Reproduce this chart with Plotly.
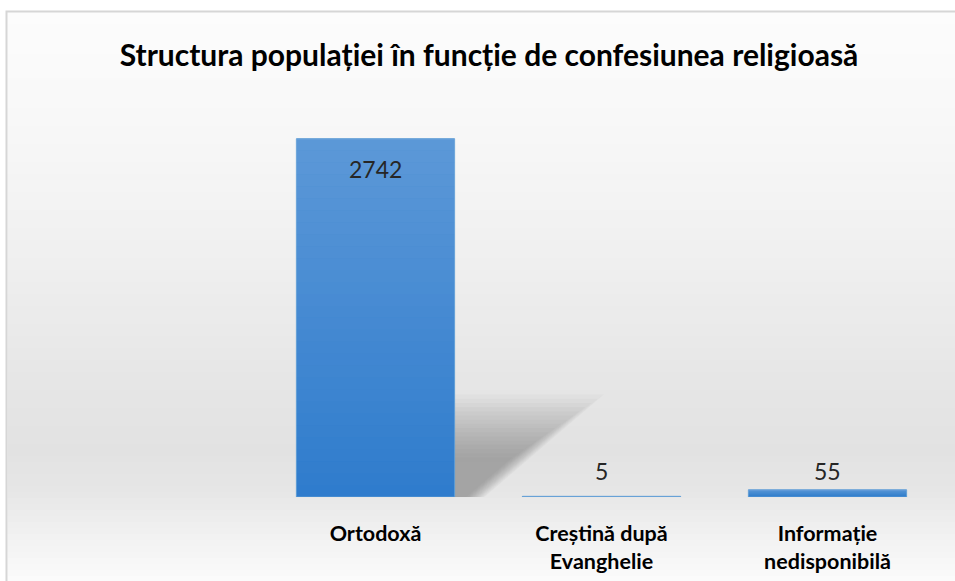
import plotly.graph_objects as go

# ---- data ----
categories = ["Ortodoxă", "Creștină după<br>Evanghelie", "Informație<br>nedisponibilă"]
values = [2742, 5, 55]
title_text = "Structura populației în funcție de confesiunea religioasă"

W, H = 955, 581
BAR_W = 0.70
Y_MAX = 3000
FONT = "Lato"

fig = go.Figure()
fig.add_trace(go.Bar(
    x=list(range(len(categories))), y=values, width=BAR_W,
    marker=dict(color="#2f7ccd", line=dict(color="#5b9bd5", width=1)),
    hoverinfo="skip", showlegend=False,
))

shapes = []
# background gradient (figure fraction coordinates), inside the frame
prof = [(11, 252), (120, 248), (250, 240), (380, 230), (450, 226), (490, 230), (530, 240), (581, 251)]
def gray_at(py):
    for (a, ga), (b, gb) in zip(prof, prof[1:]):
        if a <= py <= b:
            t = (py - a) / (b - a)
            return ga + (gb - ga) * t
    return prof[-1][1]
step = 6
py = 12
while py < H:
    g = int(round(gray_at(py + step / 2)))
    shapes.append(dict(type="rect", xref="paper", yref="paper", layer="below",
                       x0=7.5 / W, x1=1.0, y0=1 - (py + step) / H, y1=1 - py / H,
                       fillcolor=f"rgb({g},{g},{g})", line=dict(width=0)))
    py += step

# frame border
shapes.append(dict(type="rect", xref="paper", yref="paper", layer="below",
                   x0=6.5 / W, x1=1.02, y0=-0.05, y1=1 - 11.5 / H,
                   fillcolor="rgba(0,0,0,0)", line=dict(color="#d6d6d6", width=2)))

# soft cast shadow behind the tallest bar (relative to the bar geometry)
imax = values.index(max(values))
vmax = values[imax]
xr = imax + BAR_W / 2
nl = 16
for k in range(nl):
    s = 1.1 - k * 0.045
    h = vmax * 0.26 * s
    reach = 0.6 * s
    shapes.append(dict(type="path", xref="x", yref="y", layer="below",
                       path=f"M {xr},0 L {xr},{h} L {xr + reach},{h} L {xr + 0.12 * s},0 Z",
                       fillcolor="rgba(110,110,110,0.04)", line=dict(width=0)))

# vertical light gradient over the bars
n = 30
for i, v in enumerate(values):
    for k in range(n):
        a = 0.22 * (k + 0.5) / n
        shapes.append(dict(type="rect", xref="x", yref="y", layer="above",
                           x0=i - BAR_W / 2, x1=i + BAR_W / 2,
                           y0=v * k / n, y1=v * (k + 1) / n,
                           fillcolor=f"rgba(255,255,255,{a:.3f})", line=dict(width=0)))

annotations = []
for i, v in enumerate(values):
    if v > 0.1 * vmax:
        annotations.append(dict(x=i, y=v, xref="x", yref="y", text=str(v), showarrow=False,
                                yanchor="middle", yshift=-30,
                                font=dict(family=FONT, size=23, color="#262626")))
    else:
        annotations.append(dict(x=i, y=0, xref="x", yref="y", text=str(v), showarrow=False,
                                yanchor="middle", yshift=26,
                                font=dict(family=FONT, size=23, color="#262626")))

fig.update_layout(
    width=W, height=H,
    margin=dict(l=0, r=0, t=0, b=0, autoexpand=False),
    paper_bgcolor="white", plot_bgcolor="rgba(0,0,0,0)",
    title=dict(text=title_text, x=489 / W, xref="container", xanchor="center",
               y=1 - 55 / H, yref="container", yanchor="middle",
               font=dict(family=FONT, size=30, color="#000000", weight="bold")),
    xaxis=dict(domain=[262.5 / W, 940.5 / W], range=[-0.5, len(categories) - 0.5],
               tickmode="array", tickvals=list(range(len(categories))), ticktext=categories,
               showgrid=False, zeroline=False, showline=False,
               ticks="outside", ticklen=17, tickcolor="rgba(0,0,0,0)",
               tickfont=dict(family=FONT, size=21.5, color="#000000", weight="bold"),
               automargin=False, fixedrange=True),
    yaxis=dict(domain=[(H - 497) / H, (H - 105) / H], range=[0, Y_MAX], visible=False,
               showgrid=False, zeroline=False, automargin=False, fixedrange=True),
    shapes=shapes, annotations=annotations, bargap=0.3,
)

fig.write_html("out.html", config={"displayModeBar": False},
               post_script=["document.body.style.margin='0px';document.body.style.overflow='hidden';"])
